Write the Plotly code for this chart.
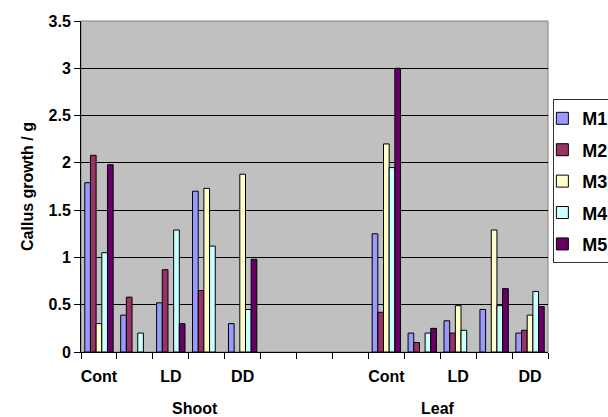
import plotly.graph_objects as go

# Categories along the x axis (labels shown on every other slot, as in the sheet)
categories = ["Cont", "", "LD", "", "DD", "", "", "", "Cont", "", "LD", "", "DD"]
group_labels = ["Shoot", "Leaf"]

series_names = ["M1", "M2", "M3", "M4", "M5"]
series_colors = ["#9999FF", "#993366", "#FFFFCC", "#CCFFFF", "#660066"]

# Callus growth (g) per category; None where no bar was recorded
m1 = [1.79, 0.39, 0.52, 1.70, 0.30, None, None, None, 1.25, 0.20, 0.33, 0.45, 0.20]
m2 = [2.08, 0.58, 0.87, 0.65, None, None, None, None, 0.42, 0.10, 0.20, None, 0.23]
m3 = [0.30, None, None, 1.73, 1.88, None, None, None, 2.20, None, 0.49, 1.29, 0.39]
m4 = [1.05, 0.20, 1.29, 1.12, 0.45, None, None, None, 1.95, 0.20, 0.23, 0.49, 0.64]
m5 = [1.98, None, 0.30, None, 0.98, None, None, None, 3.00, 0.25, None, 0.67, 0.48]
series_values = [m1, m2, m3, m4, m5]

FONT = "Liberation Sans, Arial, sans-serif"
x_pos = list(range(len(categories)))

fig = go.Figure()
for name, color, vals in zip(series_names, series_colors, series_values):
    fig.add_trace(go.Bar(
        x=x_pos, y=vals, name=name, legendgroup=name,
        marker=dict(color=color, line=dict(color="black", width=1)),
    ))

boundaries = [i - 0.5 for i in range(len(categories) + 1)]

fig.update_layout(
    width=608, height=417,
    margin=dict(l=81, r=60, t=21, b=65, autoexpand=False),
    paper_bgcolor="white",
    plot_bgcolor="#C0C0C0",
    barmode="group",
    bargap=0.21,
    bargroupgap=0,
    font=dict(family=FONT, size=16, color="black", weight="bold"),
    showlegend=True,
    legend=dict(
        x=1.0115, xanchor="left", y=0.764, yanchor="top",
        bgcolor="white", bordercolor="#333333", borderwidth=1,
        font=dict(family=FONT, size=18, color="black", weight="bold"),
        tracegroupgap=5, indentation=-12,
    ),
)

fig.update_xaxes(
    range=[-0.5, len(categories) - 0.5],
    tickmode="array", tickvals=x_pos, ticktext=categories,
    ticks="", showgrid=False, zeroline=False,
    showline=True, linecolor="black", linewidth=1,
    tickfont=dict(family=FONT, size=16, color="black", weight="bold"),
    ticklabelstandoff=10,
    minor=dict(tickmode="array", tickvals=boundaries, ticks="outside",
               ticklen=6, tickcolor="black", tickwidth=1, showgrid=False),
)

fig.update_yaxes(
    range=[0, 3.5], dtick=0.5, tick0=0,
    showgrid=True, gridcolor="black", gridwidth=1,
    zeroline=False, showline=True, linecolor="black", linewidth=1,
    ticks="outside", ticklen=6, tickcolor="black",
    tickfont=dict(family=FONT, size=16, color="black", weight="bold"),
    title=dict(text="Callus growth / g", standoff=10,
               font=dict(family=FONT, size=16, color="black", weight="bold")),
)

# Plot area frame (grey border along top and right)
fig.add_shape(type="rect", xref="paper", yref="paper", x0=0, y0=0, x1=1, y1=1,
              line=dict(color="#808080", width=1), layer="between")

# Organ group labels beneath the category labels
for label, xc in zip(group_labels, [2.68, 9.45]):
    fig.add_annotation(text=label, x=xc, xref="x", y=-0.172, yref="paper",
                       showarrow=False, yanchor="middle",
                       font=dict(family=FONT, size=16, color="black", weight="bold"))

fig.write_html("out.html")
